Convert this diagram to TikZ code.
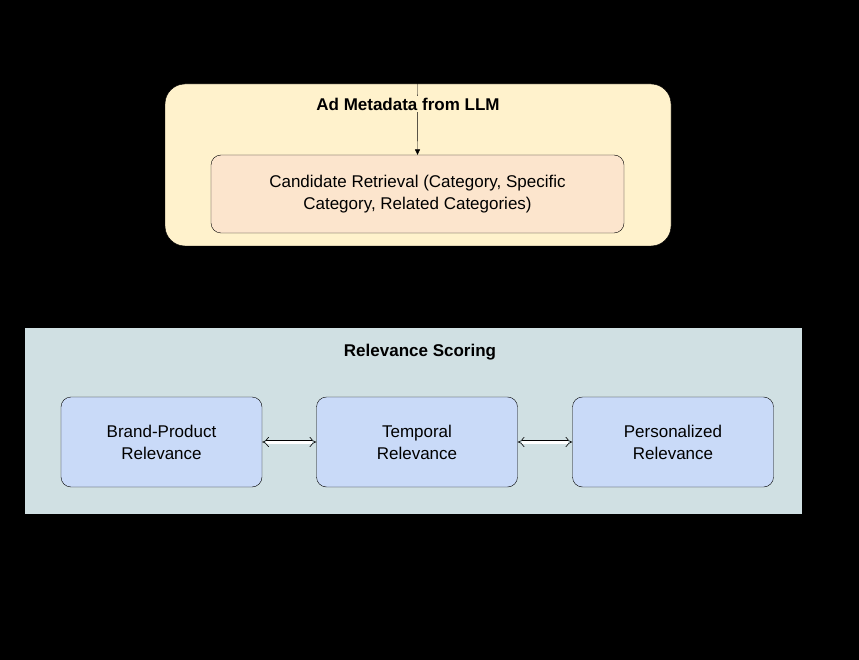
\documentclass[tikz,border=0pt]{standalone}
\usepackage{fontspec}
\setmainfont{Liberation Sans}
\usetikzlibrary{arrows.meta}
\definecolor{metaYellow}{HTML}{FFF2CC}
\definecolor{retOrange}{HTML}{FCE5CD}
\definecolor{scoreGrey}{HTML}{D0E0E3}
\definecolor{relBlue}{HTML}{C9DAF8}
\tikzset{%
  tipA/.tip={Triangle[angle=50:6pt]},
  box/.style={draw=black, rounded corners=10pt, align=center, font=\fontsize{17}{22}\selectfont, inner sep=0pt},
  relbox/.style={box, fill=relBlue, minimum width=201pt, minimum height=90pt},
  title/.style={font=\bfseries\fontsize{17}{20}\selectfont, inner sep=2pt},
  dbl/.style={double=white, double distance=3pt, line width=0.6pt, {Implies}-{Implies}}
}
\begin{document}
\begin{tikzpicture}[x=1pt,y=-1pt]
\fill[black] (0,0) rectangle (859,660);
\useasboundingbox (0,0) rectangle (859,660);
\node[box, fill=metaYellow, rounded corners=20pt, minimum width=506pt, minimum height=162pt] (meta) at (418,165) {};
\node[box, fill=retOrange, minimum width=413pt, minimum height=78pt] (ret) at (417.5,194) {Candidate Retrieval (Category, Specific\\Category, Related Categories)};
\coordinate (top) at (418,0);
\draw[-tipA, thin] (top) -- (ret.north);
\node[title, fill=metaYellow] (metaT) at (408,104) {Ad Metadata from LLM};
\node[fill=scoreGrey, minimum width=777pt, minimum height=186pt, inner sep=0pt] (score) at (413.5,421) {};
\draw[-tipA, thin] (meta.south) -- (score.north);
\node[title] (scoreT) at (420,352) {Relevance Scoring};
\node[relbox] (brand) at (161.5,442) {Brand-Product\\Relevance};
\node[relbox] (temp) at (417,442) {Temporal\\Relevance};
\node[relbox] (pers) at (673,442) {Personalized\\Relevance};
\draw[dbl] (brand) -- (temp);
\draw[dbl] (temp) -- (pers);
\end{tikzpicture}
\end{document}
